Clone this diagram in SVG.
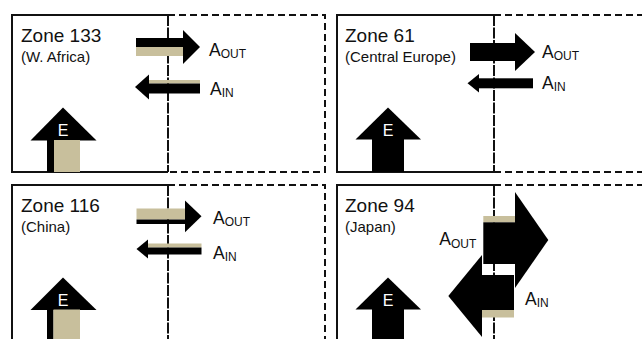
<svg xmlns="http://www.w3.org/2000/svg" width="642" height="339" viewBox="0 0 642 339">
<defs>
<style>
.box{fill:none;stroke:#111;stroke-width:2}
.edge{fill:none;stroke:#111;stroke-width:2;stroke-dasharray:11 1.5}
.nb{fill:none;stroke:#111;stroke-width:2;stroke-dasharray:7 4}
.blk{fill:#000}
.tan{fill:#c8bf9c}
.title{font-family:"Liberation Sans",Arial,sans-serif;font-size:19px;fill:#111}
.sub{font-family:"Liberation Sans",Arial,sans-serif;font-size:15px;fill:#111}
.lbl{font-family:"Liberation Sans",Arial,sans-serif;font-size:17.5px;fill:#111}
.e{font-family:"Liberation Sans",Arial,sans-serif;font-size:16px;fill:#fff;text-anchor:middle}
</style>
</defs>
<rect width="642" height="339" fill="#fff"/>

<g id="zone133">
<path class="nb" d="M168,15 H325 V172 H168"/>
<path class="box" d="M168,15 H12 V172 H168"/>
<path class="edge" d="M168,15 V172"/>
<text class="title" x="21" y="42">Zone 133</text>
<text class="sub" x="21" y="62">(W. Africa)</text>
<polygon class="blk" points="30.5,140.5 63,107.5 96.5,140.5"/>
<rect class="blk" x="47" y="140" width="7" height="32"/>
<rect class="tan" x="54" y="140" width="26" height="32"/>
<text class="e" x="63" y="136">E</text>
</g>

<g id="zone61">
<path class="nb" d="M494,15 H652 M494,172 H652"/>
<path class="box" d="M494,15 H337 V172 H494"/>
<path class="edge" d="M494,15 V172"/>
<text class="title" x="345" y="42">Zone 61</text>
<text class="sub" x="345" y="62">(Central Europe)</text>
<polygon class="blk" points="355.5,139.5 388,107.5 421,139.5"/>
<rect class="blk" x="372" y="139" width="32" height="33"/>
<text class="e" x="388" y="136">E</text>
</g>

<g id="zone116">
<path class="nb" d="M168,185 H325 V345"/>
<path class="box" d="M168,185 H12 V345"/>
<path class="edge" d="M168,185 V345"/>
<text class="title" x="21" y="212">Zone 116</text>
<text class="sub" x="21" y="232">(China)</text>
<polygon class="blk" points="30.5,310 63,277.5 96.5,310"/>
<rect class="blk" x="47" y="309.5" width="6.5" height="35"/>
<rect class="tan" x="53.5" y="309.5" width="26.5" height="35"/>
<text class="e" x="63" y="306">E</text>
</g>

<g id="zone94">
<path class="nb" d="M494,185 H652"/>
<path class="box" d="M494,185 H337 V345"/>
<path class="edge" d="M494,185 V345"/>
<text class="title" x="345" y="212">Zone 94</text>
<text class="sub" x="345" y="232">(Japan)</text>
<polygon class="blk" points="355.5,309.5 388,277.5 421,309.5"/>
<rect class="blk" x="372" y="309" width="32" height="36"/>
<text class="e" x="388" y="306">E</text>
</g>

<g id="connectors">
<g id="z133-out">
<rect class="blk" x="136" y="38" width="47.5" height="9"/>
<rect class="tan" x="136" y="47" width="47.5" height="9"/>
<polygon class="blk" points="183,30 200,47 183,64"/>
<text class="lbl" x="209" y="55.5">A<tspan font-size="12" dy="2.5">OUT</tspan></text>
</g>
<g id="z133-in">
<rect class="tan" x="148.5" y="80" width="51.5" height="3.5"/>
<rect class="blk" x="148.5" y="83.5" width="51.5" height="10"/>
<polygon class="blk" points="149,74.5 135,87 149,99.5"/>
<text class="lbl" x="210" y="94.5">A<tspan font-size="12" dy="2.5">IN</tspan></text>
</g>
<g id="z61-out">
<rect class="blk" x="470" y="43" width="45.5" height="18"/>
<polygon class="blk" points="515,33 535,52 515,71"/>
<text class="lbl" x="542" y="57.5">A<tspan font-size="12" dy="2.5">OUT</tspan></text>
</g>
<g id="z61-in">
<rect class="blk" x="478.5" y="78.3" width="54.5" height="10"/>
<polygon class="blk" points="479,74 467.5,83.3 479,92.6"/>
<text class="lbl" x="542" y="88.5">A<tspan font-size="12" dy="2.5">IN</tspan></text>
</g>
<g id="z116-out">
<rect class="tan" x="136.5" y="208.5" width="49" height="11"/>
<rect class="blk" x="136.5" y="219.5" width="49" height="4.5"/>
<polygon class="blk" points="185,200.5 201.5,216.3 185,232.2"/>
<text class="lbl" x="213" y="223.5">A<tspan font-size="12" dy="2.5">OUT</tspan></text>
</g>
<g id="z116-in">
<rect class="tan" x="147.5" y="243.5" width="54" height="4"/>
<rect class="blk" x="147.5" y="247.5" width="54" height="7"/>
<polygon class="blk" points="148,239.5 136.5,249 148,258.5"/>
<text class="lbl" x="213" y="258.5">A<tspan font-size="12" dy="2.5">IN</tspan></text>
</g>
<g id="z94-out">
<rect class="tan" x="483.3" y="216" width="32.2" height="6.3"/>
<rect class="blk" x="483.3" y="222.3" width="32.2" height="41.7"/>
<polygon class="blk" points="515,192 548.3,240 515,288"/>
<text class="lbl" x="439.3" y="245">A<tspan font-size="12" dy="2.5">OUT</tspan></text>
</g>
<g id="z94-in">
<rect class="blk" x="481.5" y="275" width="32.5" height="35"/>
<rect class="tan" x="481.5" y="310" width="32.5" height="7.5"/>
<polygon class="blk" points="482,255 448.3,296 482,337"/>
<text class="lbl" x="525" y="304.5">A<tspan font-size="12" dy="2.5">IN</tspan></text>
</g>
</g>
</svg>
